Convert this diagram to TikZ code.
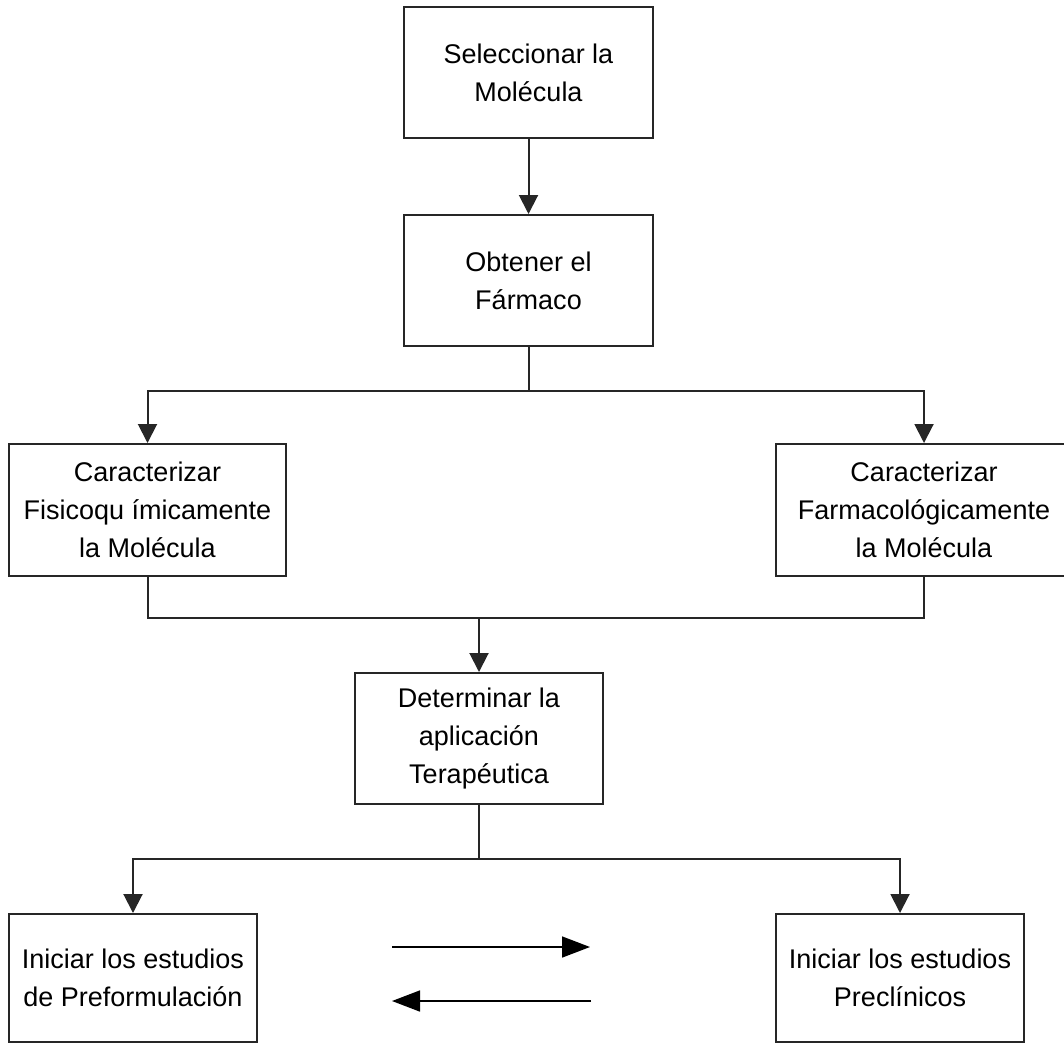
\documentclass[tikz,border=0pt]{standalone}
\usepackage{fontspec}
\setmainfont{Liberation Sans}
\usepackage{tikz}
\usetikzlibrary{arrows.meta}

\begin{document}
\begin{tikzpicture}[x=1pt,y=-1pt,
  caja/.style={draw=black!85,line width=2pt,inner sep=0pt,align=center,
    font=\fontsize{27}{38}\selectfont},
  linea/.style={draw=black!85,line width=2pt},
  flecha/.style={linea,-{Triangle[width=19pt,length=19pt]}},
  flechita/.style={draw=black,line width=1.6pt,-{Triangle[width=21pt,length=28pt]}}]
\useasboundingbox (0,0) rectangle (1064,1044);

\node[caja,minimum width=249pt,minimum height=131pt] (sel) at (528.5,72.5) {Seleccionar la\\Molécula};
\node[caja,minimum width=249pt,minimum height=131pt] (obt) at (528.5,280.5) {Obtener el\\Fármaco};

\node[caja,minimum width=277pt,minimum height=132pt] (fis) at (147.5,510) {Caracterizar\\Fisicoqu ímicamente\\la Molécula};
\node[caja,minimum width=296pt,minimum height=132pt] (farm) at (924,510) {Caracterizar\\Farmacológicamente\\la Molécula};

\node[caja,minimum width=248pt,minimum height=131pt] (det) at (479,738.5) {Determinar la\\aplicación\\Terapéutica};

\node[caja,minimum width=248pt,minimum height=128pt] (pre) at (133,978) {Iniciar los estudios\\de Preformulación};
\node[caja,minimum width=248pt,minimum height=128pt] (precl) at (900,978) {Iniciar los estudios\\Preclínicos};

\draw[flecha] (sel) -- (obt);

\draw[flecha] (obt.south) -- ++(0,44) -| (fis.north);
\draw[flecha] (obt.south) -- ++(0,44) -| (farm.north);

\coordinate (junta) at (479,618);
\draw[linea] (fis.south) -- (fis.south |- junta) -- (farm.south |- junta) -- (farm.south);
\draw[flecha] (junta) -- (det.north);

\draw[flecha] (det.south) -- ++(0,54) -| (pre.north);
\draw[flecha] (det.south) -- ++(0,54) -| (precl.north);

% flechas entre los estudios
\coordinate (ida1) at (392,947);
\coordinate (ida2) at (590,947);
\coordinate (vuelta1) at (591,1001);
\coordinate (vuelta2) at (392,1001);
\draw[flechita] (ida1) -- (ida2);
\draw[flechita] (vuelta1) -- (vuelta2);
\end{tikzpicture}
\end{document}
